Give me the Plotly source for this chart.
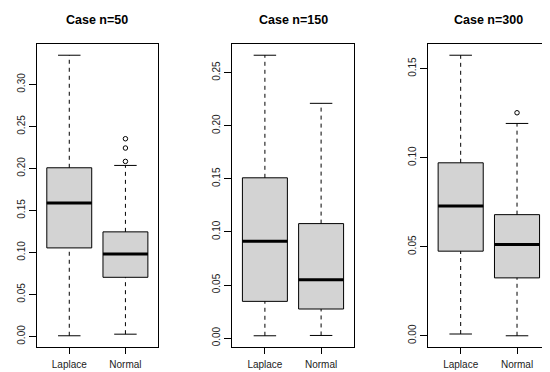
import plotly.graph_objects as go

# ---- data ----
groups = ["Laplace", "Normal"]
titles = ["Case n=50", "Case n=150", "Case n=300"]

# per panel: [Laplace, Normal]
lower_whisker = [[0.0008, 0.0027], [0.0022, 0.0025], [0.0010, 0.0000]]
q1 = [[0.1054, 0.0704], [0.0346, 0.0274], [0.0475, 0.0325]]
median = [[0.1590, 0.0982], [0.0912, 0.0550], [0.0728, 0.0512]]
q3 = [[0.2008, 0.1245], [0.1509, 0.1078], [0.0971, 0.0680]]
upper_whisker = [[0.3348, 0.2036], [0.2663, 0.2210], [0.1575, 0.1192]]
outliers = [[[], [0.2354, 0.2243, 0.2084]], [[], []], [[], [0.1252]]]
ytick_max = [0.30, 0.25, 0.15]

W, H = 550, 372
x_domains_px = [(28.7, 150.0), (224.3, 345.7), (420.0, 541.7)]
y_domain_px = (36.0, 339.0)

font_family = "Liberation Sans, Arial, sans-serif"
fig = go.Figure()

box_w = 0.8
staple_half = 0.2
positions = [1, 2]

for p in range(3):
    ax = "" if p == 0 else str(p + 1)
    xref, yref = "x" + ax, "y" + ax
    for g in range(2):
        xc = positions[g]
        # box body
        fig.add_trace(go.Box(
            x=[xc], q1=[q1[p][g]], median=[median[p][g]], q3=[q3[p][g]],
            lowerfence=[q1[p][g]], upperfence=[q3[p][g]],
            width=box_w, fillcolor="#D3D3D3",
            line=dict(color="black", width=1),
            boxpoints=False, whiskerwidth=0,
            xaxis=xref, yaxis=yref, showlegend=False, hoverinfo="skip"))
        # thick median
        fig.add_trace(go.Scatter(
            x=[xc - box_w / 2, xc + box_w / 2], y=[median[p][g]] * 2,
            mode="lines", line=dict(color="black", width=3),
            xaxis=xref, yaxis=yref, showlegend=False, hoverinfo="skip"))
        # dashed whiskers
        for a, b in [(q3[p][g], upper_whisker[p][g]), (lower_whisker[p][g], q1[p][g])]:
            fig.add_trace(go.Scatter(
                x=[xc, xc], y=[a, b], mode="lines",
                line=dict(color="black", width=1, dash="4px,4px"),
                xaxis=xref, yaxis=yref, showlegend=False, hoverinfo="skip"))
        # staples
        for v in (upper_whisker[p][g], lower_whisker[p][g]):
            fig.add_trace(go.Scatter(
                x=[xc - staple_half, xc + staple_half], y=[v, v], mode="lines",
                line=dict(color="black", width=1),
                xaxis=xref, yaxis=yref, showlegend=False, hoverinfo="skip"))
        # outliers
        if outliers[p][g]:
            fig.add_trace(go.Scatter(
                x=[xc] * len(outliers[p][g]), y=outliers[p][g], mode="markers",
                marker=dict(symbol="circle-open", size=4.5, color="black",
                            line=dict(width=1, color="black")),
                xaxis=xref, yaxis=yref, showlegend=False, hoverinfo="skip"))

    # axis ranges like R (4% expansion)
    allv = lower_whisker[p] + upper_whisker[p] + [v for o in outliers[p] for v in o]
    lo, hi = min(allv), max(allv)
    ext = (hi - lo) * 0.04
    xd = x_domains_px[p]
    nt = int(round(ytick_max[p] / 0.05))
    tv = [round(i * 0.05, 2) for i in range(nt + 1)]
    fig.update_layout(**{
        "xaxis" + ax: dict(
            domain=[xd[0] / W, xd[1] / W], range=[0.42, 2.58],
            tickvals=positions, ticktext=groups, ticks="outside", ticklen=6,
            tickcolor="black", showline=True, mirror=True, linecolor="black",
            linewidth=1, showgrid=False, zeroline=False, fixedrange=True,
            automargin=False, ticklabelstandoff=2,
            tickfont=dict(family=font_family, size=10, color="#222"),
            anchor=yref),
        "yaxis" + ax: dict(
            domain=[1 - y_domain_px[1] / H, 1 - y_domain_px[0] / H],
            range=[lo - ext, hi + ext], tickvals=tv, tickformat=".2f",
            tickangle=-90, ticks="outside", ticklen=7, tickcolor="black",
            showline=True, mirror=True, linecolor="black", linewidth=1,
            showgrid=False, zeroline=False, fixedrange=True,
            automargin=False, ticklabelstandoff=0,
            tickfont=dict(family=font_family, size=10, color="#222"),
            anchor=xref),
    })
    fig.add_annotation(
        text="<b>" + titles[p] + "</b>", xref="paper", yref="paper",
        x=(xd[0] + xd[1]) / 2 / W, y=1 - 11.7 / H, xanchor="center",
        yanchor="middle", showarrow=False,
        font=dict(family=font_family, size=12.5, color="black"))

fig.update_layout(
    width=W, height=H, margin=dict(l=0, r=0, t=0, b=0, autoexpand=False),
    paper_bgcolor="white", plot_bgcolor="white", showlegend=False,
    boxmode="overlay")

fig.write_html("out.html")
